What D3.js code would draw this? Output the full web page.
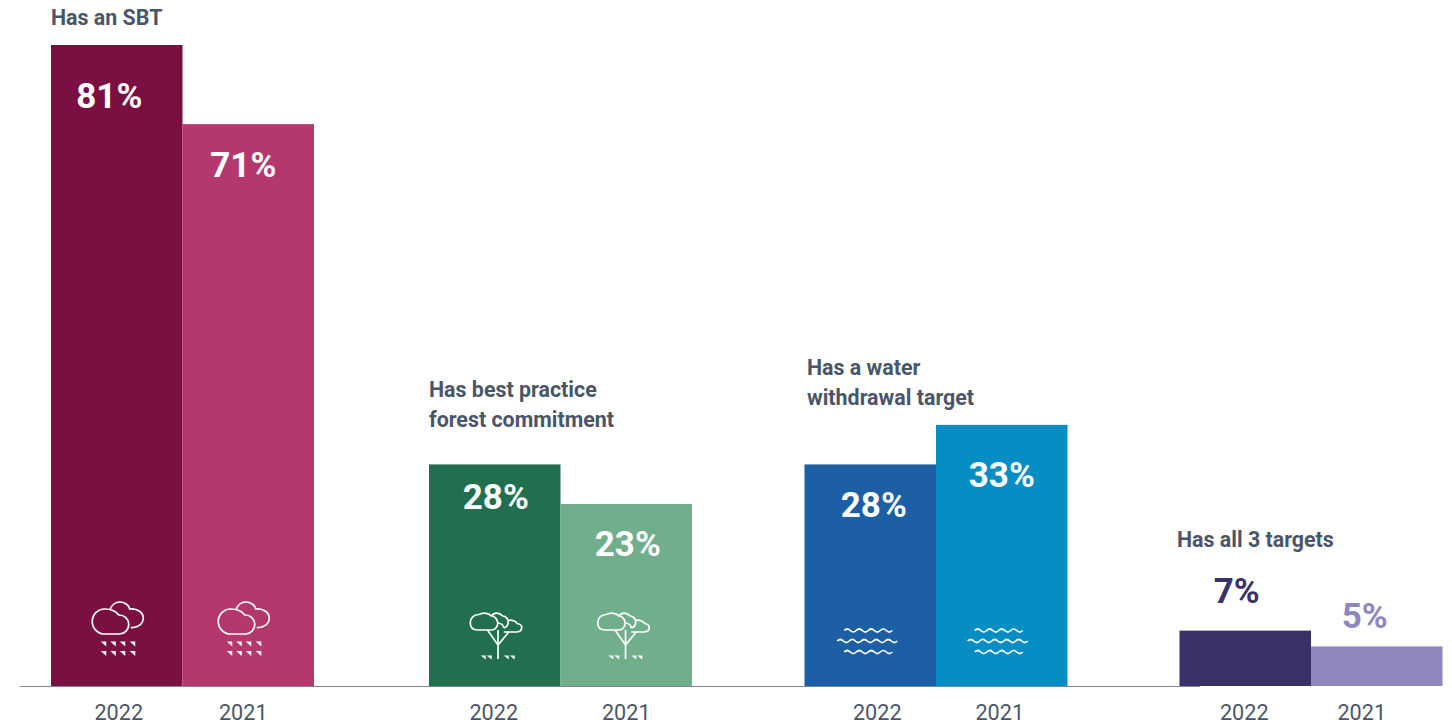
<!DOCTYPE html>
<html>
<head>
<meta charset="utf-8">
<script src="https://cdn.jsdelivr.net/npm/d3@7"></script>
<style>
  html, body { margin: 0; padding: 0; background: #fff; }
  svg { display: block; font-family: Roboto, sans-serif; }
</style>
</head>
<body>
<svg id="chart" width="1452" height="726"></svg>
<script>
// Share of companies holding each environmental target, by year
const groups = ["sbt", "forest", "water", "all"];
const years = ["2022", "2021"];
const values2022 = [81, 28, 28, 7];
const values2021 = [71, 23, 33, 5];
const titles = [
  ["Has an SBT"],
  ["Has best practice", "forest commitment"],
  ["Has a water", "withdrawal target"],
  ["Has all 3 targets"]
];
const icons = ["rain", "tree", "wave", null];
const colors2022 = ["#7a0f41", "#226f50", "#1c5fa5", "#3b3067"];
const colors2021 = ["#b4376d", "#70ae8c", "#068dc4", "#8f88bf"];

const ink = "#4a5668";
const svg = d3.select("#chart");

// Layout
const baseline = 686;
const barWidth = 131.5;
const x0 = d3.scaleOrdinal().domain(groups).range([51, 429, 804.5, 1179.5]);
const x1 = d3.scaleBand().domain(years).range([0, barWidth * 2]);
const y = d3.scaleLinear().domain([0, 81]).range([baseline, 45]);

// Nudges of the year ticks and pictograms away from the bar centres
const tickNudge = { sbt: [2, -5], forest: [-1, 0], water: [7, -2], all: [-1, -15] };
const iconNudge = { sbt: [1, -4.5], forest: [1, -3], water: [-3, -4], all: [0, 0] };
const titleBottom = { sbt: 25, forest: 397, water: 375, all: 547 };
const titleLeft = { sbt: 51, forest: 429, water: 807, all: 1177 };
// Value label placement per bar: [dx from bar centre, dy from bar top]
const labelShift = {
  sbt: [[-7.5, 63], [-5, 53]],
  forest: [[1, 45], [1.5, 52]],
  water: [[3.5, 53], [0, 62]],
  all: [[-8.5, -28], [-12, -18]]
};

const rows = groups.flatMap((g, i) => [
  { group: g, year: "2022", value: values2022[i], color: colors2022[i], icon: icons[i], k: 0 },
  { group: g, year: "2021", value: values2021[i], color: colors2021[i], icon: icons[i], k: 1 }
]);
const barCentre = d => x0(d.group) + x1(d.year) + x1.bandwidth() / 2;

// Bars
svg.append("g").selectAll("rect").data(rows).join("rect")
  .attr("x", d => x0(d.group) + x1(d.year))
  .attr("y", d => y(d.value))
  .attr("width", x1.bandwidth())
  .attr("height", d => baseline - y(d.value))
  .attr("fill", d => d.color);

// Baseline rule, stopping short of the last group's second half
svg.append("line")
  .attr("x1", 20).attr("x2", 1200)
  .attr("y1", baseline + 0.5).attr("y2", baseline + 0.5)
  .attr("stroke", "#7d8699").attr("stroke-width", 1);

// Value labels: inside tall bars, above the short ones
svg.append("g").selectAll("text").data(rows).join("text")
  .attr("x", d => barCentre(d) + labelShift[d.group][d.k][0])
  .attr("y", d => y(d.value) + labelShift[d.group][d.k][1])
  .attr("text-anchor", "middle")
  .attr("font-size", 35)
  .attr("font-weight", 700)
  .attr("fill", d => d.group === "all" ? d.color : "#fff")
  .text(d => d.value + "%");

// Group titles
groups.forEach((g, i) => {
  svg.append("g").selectAll("text").data(titles[i]).join("text")
    .attr("x", titleLeft[g])
    .attr("y", (line, j) => titleBottom[g] + j * 29.5)
    .attr("font-size", 21.4)
    .attr("font-weight", 700)
    .attr("fill", ink)
    .text(line => line);
});

// Year ticks
svg.append("g").selectAll("text").data(rows).join("text")
  .attr("x", d => barCentre(d) + tickNudge[d.group][d.k])
  .attr("y", 720)
  .attr("text-anchor", "middle")
  .attr("font-size", 21.6)
  .attr("fill", ink)
  .text(d => d.year);

// Pictograms
const drawIcon = {
  rain(g, cx) {
    g.attr("transform", `translate(${cx},620)`);
    g.append("path")
      .attr("d", "M-13,14 A12.5,12.5 0 0 1 -13,-11 C-7,-11 -2,-9 1,-5 A9.5,9.5 0 1 1 2,14 Z");
    g.append("path")
      .attr("d", "M-8,-10 C-6,-15 -2,-18 2,-18 C7,-18 11,-15 12,-11 C20,-12 25.5,-7 25.5,-2 C25.5,4 20,8 13,7.5");
    const spots = [];
    [21.5, 31].forEach(yy => [-17, -7.5, 2, 12].forEach((xx, i) => spots.push({ x: xx, y: yy, flip: i >= 2 })));
    g.selectAll("path.drop").data(spots).join("path")
      .attr("class", "drop")
      .attr("d", d => d.flip ? `M${d.x},${d.y}h5.5v5z` : `M${d.x},${d.y}h5.5l0,5z`)
      .attr("fill", "#fff").attr("stroke", "none");
  },
  tree(g, cx) {
    g.attr("transform", `translate(${cx},620)`);
    // left, middle and right crowns of the canopy
    g.append("path")
      .attr("d", "M-18,10 C-23,10 -25.5,7 -25.5,3 C-25.5,-2 -22,-5.5 -17,-5.5 C-13,-7.5 -8,-7.5 -4,-4 C-1,-4 2,0 2,3 C2,7 -1,10 -4,10 Z");
    g.append("path")
      .attr("d", "M-4,-4 C-2,-7.5 3,-8 7,-4 C10,-4 12.5,-1 12.5,2 C12.5,5 11,7 8,8 M2,3 C5,3 8,5 8,8");
    g.append("path")
      .attr("d", "M12.5,0.5 C16,-0.5 20,1 21.5,3.5 C24.5,4 26,6 26,7.5 C26,10.5 23.5,12 20,12 L8,12");
    g.append("path")
      .attr("d", "M2.3,10 L2.3,39 M-8.3,10 L2.3,25 M13,12 L2.3,25");
    const spots = [-15, -9, 8, 14].map(xx => ({ x: xx, y: 35.5 }));
    g.selectAll("path.drop").data(spots).join("path")
      .attr("class", "drop")
      .attr("d", d => `M${d.x},${d.y}h5v4z`)
      .attr("fill", "#fff").attr("stroke", "none");
  },
  wave(g, cx) {
    g.attr("transform", `translate(${cx},641)`);
    const ripple = (x, yy, humps) => {
      let s = `M${x},${yy} q3,-3 6,0`;
      for (let i = 1; i < humps * 2; i++) s += " t6,0";
      return s;
    };
    [[-23, -10.5, 4], [-30, 0, 5], [-23, 11, 4]].forEach(([a, b, c]) => {
      g.append("path").attr("d", ripple(a, b, c));
    });
  }
};

rows.filter(d => d.icon).forEach(d => {
  const g = svg.append("g")
    .attr("fill", "none").attr("stroke", "#fff").attr("stroke-width", 1.7);
  drawIcon[d.icon](g, barCentre(d) + iconNudge[d.group][d.k]);
});
</script>
</body>
</html>
